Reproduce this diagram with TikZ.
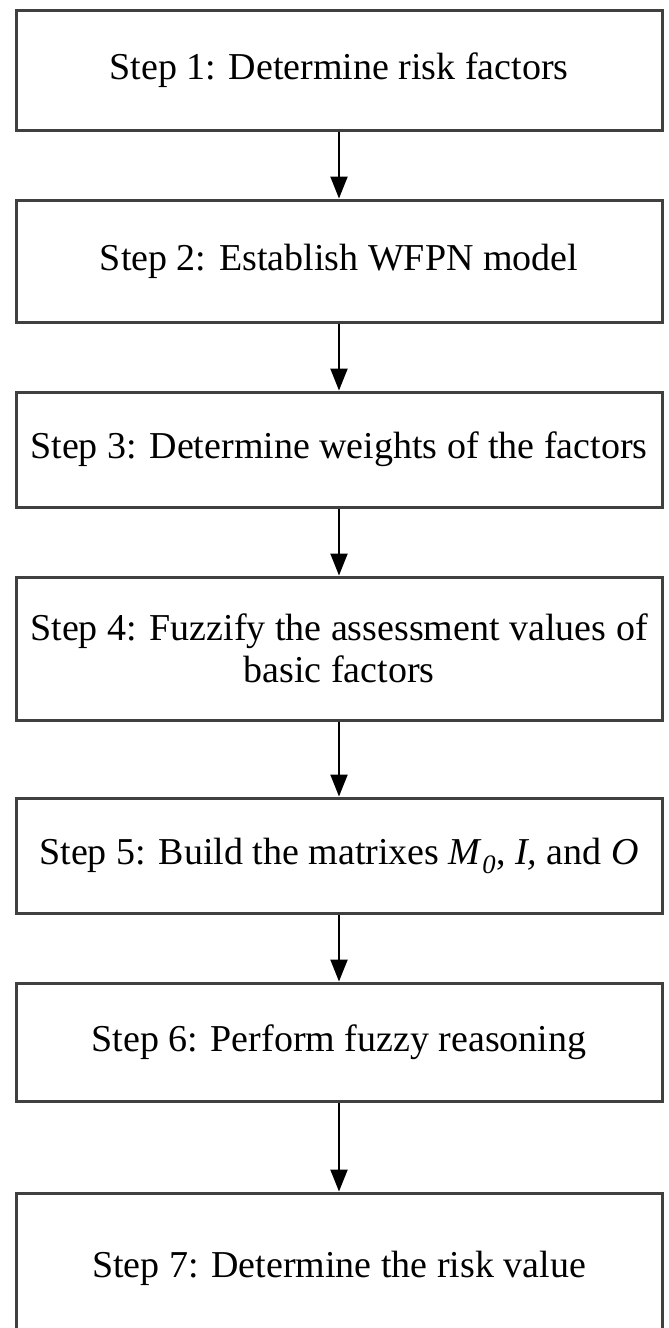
\documentclass[tikz,border=0pt]{standalone}
\usepackage{fontspec}
\setmainfont{Liberation Serif}
\usetikzlibrary{arrows.meta}
\definecolor{boxgray}{HTML}{404040}
\begin{document}
\begin{tikzpicture}[x=1pt,y=-1pt,
  stepbox/.style={draw=boxgray, line width=3pt, minimum width=646pt, inner sep=0pt, align=center, font=\fontsize{38}{42}\selectfont},
  flow/.style={-{Triangle[width=17pt,length=22pt]}, line width=2.2pt, black}]
\useasboundingbox (0,0) rectangle (669,1328);
\clip (0,0) rectangle (669,1328);
\fill[white] (0,0) rectangle (669,1328);
\node[stepbox, minimum height=120pt] (b1) at (339,70) {Step 1: Determine risk factors};
\node[stepbox, minimum height=122pt] (b2) at (339,261) {Step 2: Establish WFPN model};
\node[stepbox, minimum height=115pt] (b3) at (339,449.5) {Step 3: Determine weights of the factors};
\node[stepbox, minimum height=143pt] (b4) at (339,648.5) {Step 4: Fuzzify the assessment values of\\basic factors};
\node[stepbox, minimum height=115pt] (b5) at (339,855.5) {Step 5: Build the matrixes \textit{M}\textsubscript{\textit{0}}, \textit{I,} and \textit{O}};
\node[stepbox, minimum height=118pt] (b6) at (339,1042) {Step 6: Perform fuzzy reasoning};
\node[stepbox, minimum height=150pt] (b7) at (339,1268) {Step 7: Determine the risk value};
\draw[flow] (b1.south) -- (b2.north);
\draw[flow] (b2.south) -- (b3.north);
\draw[flow] (b3.south) -- (b4.north);
\draw[flow] (b4.south) -- (b5.north);
\draw[flow] (b5.south) -- (b6.north);
\draw[flow] (b6.south) -- (b7.north);
\end{tikzpicture}
\end{document}
